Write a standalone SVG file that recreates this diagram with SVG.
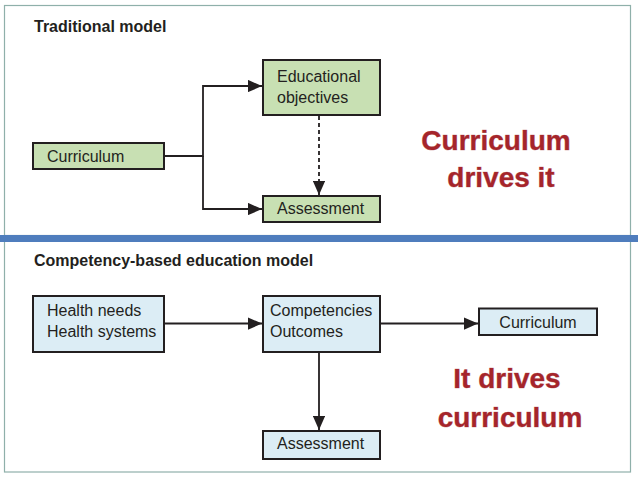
<svg xmlns="http://www.w3.org/2000/svg" width="638" height="479" viewBox="0 0 638 479">
<style>
.frame{fill:none;stroke:#8fb0aa;stroke-width:1.2}
.title{font-family:"Liberation Sans",Arial,sans-serif;font-weight:bold;font-size:16px;fill:#231f20}
.lbl{font-family:"Liberation Sans",Arial,sans-serif;font-size:16px;fill:#231f20}
.g{fill:#c8e0b3;stroke:#231f20;stroke-width:2}
.b{fill:#dcedf5;stroke:#231f20;stroke-width:2}
.red{font-family:"Liberation Sans",Arial,sans-serif;font-weight:bold;font-size:28px;fill:#a5252b;text-anchor:middle;stroke:#c98a8a;stroke-width:0.6;paint-order:stroke}
.ln{fill:none;stroke:#231f20;stroke-width:1.8}
.dash{fill:none;stroke:#231f20;stroke-width:1.8;stroke-dasharray:4 3}
</style>
<defs>
<marker id="ah" markerWidth="8" markerHeight="7" refX="8" refY="3.5" orient="auto" markerUnits="strokeWidth">
<path d="M0,0 L8,3.5 L0,7 Z" fill="#231f20"/>
</marker>
</defs>
<rect x="0" y="0" width="638" height="479" fill="#ffffff"/>
<rect class="frame" x="4.5" y="5.5" width="626" height="230"/>
<rect class="frame" x="4.5" y="241" width="626" height="231"/>
<rect x="0" y="235" width="638" height="7" fill="#4f7dbd"/>

<text class="title" x="34" y="32">Traditional model</text>
<text class="title" x="34" y="266">Competency-based education model</text>

<g id="connectors">
<path class="ln" d="M164,156 H203 V86 H262" marker-end="url(#ah)"/>
<path class="ln" d="M203,156 V209 H262" marker-end="url(#ah)"/>
<path class="dash" d="M319,116 V195" marker-end="url(#ah)"/>
<path class="ln" d="M164,323.5 H262" marker-end="url(#ah)"/>
<path class="ln" d="M380,323.5 H478" marker-end="url(#ah)"/>
<path class="ln" d="M319,352 V430" marker-end="url(#ah)"/>
</g>

<g id="n-educational-objectives">
<rect class="g" x="263" y="60" width="117" height="55"/>
<text class="lbl" x="277" y="82">Educational</text>
<text class="lbl" x="277" y="103">objectives</text>
</g>
<g id="n-curriculum-top">
<rect class="g" x="33" y="143" width="131" height="26"/>
<text class="lbl" x="47" y="162">Curriculum</text>
</g>
<g id="n-assessment-top">
<rect class="g" x="263" y="196" width="117" height="26"/>
<text class="lbl" x="277" y="214">Assessment</text>
</g>

<g id="n-health">
<rect class="b" x="33" y="296" width="131" height="56"/>
<text class="lbl" x="47" y="316">Health needs</text>
<text class="lbl" x="47" y="337">Health systems</text>
</g>
<g id="n-competencies">
<rect class="b" x="263" y="296" width="117" height="56"/>
<text class="lbl" x="270" y="316">Competencies</text>
<text class="lbl" x="270" y="337">Outcomes</text>
</g>
<g id="n-curriculum-bottom">
<rect class="b" x="479" y="308.5" width="118" height="26.5"/>
<text class="lbl" x="538" y="327.5" text-anchor="middle">Curriculum</text>
</g>
<g id="n-assessment-bottom">
<rect class="b" x="263" y="431" width="117" height="28"/>
<text class="lbl" x="277" y="449">Assessment</text>
</g>

<text class="red" x="496" y="150">Curriculum</text>
<text class="red" x="501" y="187">drives it</text>
<text class="red" x="507" y="388">It drives</text>
<text class="red" x="510" y="427">curriculum</text>
</svg>
